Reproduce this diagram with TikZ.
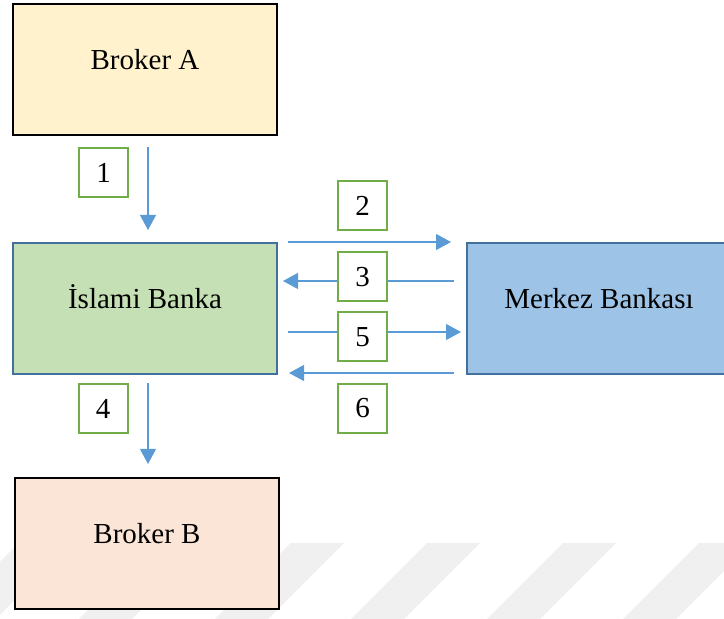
\documentclass[tikz,border=0pt]{standalone}
\usepackage{fontspec}
\setmainfont{Liberation Serif}
\usetikzlibrary{arrows.meta}
\definecolor{brokerAfill}{HTML}{FFF2CC}
\definecolor{bankfill}{HTML}{C5E0B4}
\definecolor{centralfill}{HTML}{9DC3E6}
\definecolor{brokerBfill}{HTML}{FBE5D6}
\definecolor{bankedge}{HTML}{41719C}
\definecolor{stepgreen}{HTML}{70AD47}
\definecolor{flowblue}{HTML}{5B9BD5}
\definecolor{stripegray}{HTML}{F0F0F0}
\begin{document}
\begin{tikzpicture}[x=1pt,y=1pt,
  every node/.style={font=\fontsize{29}{34}\selectfont},
  party/.style={draw=black,line width=2pt,minimum width=264pt,minimum height=131pt,
    text height=12pt,text depth=12pt,inner sep=0pt},
  bank/.style={party,draw=bankedge},
  stepbox/.style={draw=stepgreen,fill=white,line width=2pt,minimum width=49pt,
    minimum height=49pt,inner sep=0pt},
  flow/.style={draw=flowblue,line width=1.1pt,-{Triangle[length=15pt,width=16pt]}},
  stripe/.style={fill=stripegray}]
\useasboundingbox (0,0) rectangle (724,619);

% faint diagonal background stripes
\foreach \sx in {19,155,291,427,563,699}
  \fill[stripe] (\sx,76) -- ++(53,0) -- ++(-76,-76) -- ++(-53,0) -- cycle;

% parties
\node[party,fill=brokerAfill] (brokerA) at (145,549.5) {Broker A};
\node[bank,fill=bankfill] (islami) at (145,310.5) {İslami Banka};
\node[bank,fill=centralfill] (merkez) at (599,310.5) {Merkez Bankası};
\node[party,fill=brokerBfill] (brokerB) at (147,75) {Broker B};

% flows
\draw[flow] ([xshift=3pt,yshift=-11pt]brokerA.south) -- ([xshift=3pt,yshift=12pt]islami.north);
\draw[flow] ([xshift=10pt]islami.north east) -- ([xshift=-15pt]merkez.north west);
\draw[flow] ([xshift=-12pt,yshift=27.5pt]merkez.west) -- ([xshift=5pt,yshift=27.5pt]islami.east);
\draw[flow] ([xshift=10pt,yshift=-23.5pt]islami.east) -- ([xshift=-5pt,yshift=-23.5pt]merkez.west);
\draw[flow] ([xshift=-12pt,yshift=-64.5pt]merkez.west) -- ([xshift=11pt,yshift=-64.5pt]islami.east);
\draw[flow] ([xshift=3pt,yshift=-8pt]islami.south) -- ([xshift=1pt,yshift=13.5pt]brokerB.north);

% step numbers
\node[stepbox] (s1) at (103.5,446) {1};
\node[stepbox] (s2) at (362.5,413.5) {2};
\node[stepbox] (s3) at (362.5,342) {3};
\node[stepbox] (s5) at (362.5,282) {5};
\node[stepbox] (s6) at (362.5,210.5) {6};
\node[stepbox] (s4) at (103,210.5) {4};
\end{tikzpicture}
\end{document}
